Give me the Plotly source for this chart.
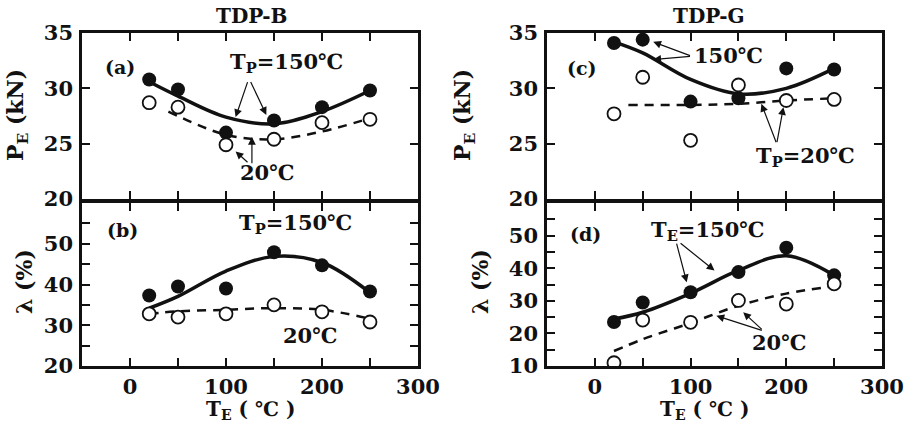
import plotly.graph_objects as go

# ---------------- data ----------------
TE = [20, 50, 100, 150, 200, 250]

# (a) TDP-B, P_E (kN)
a_hot = [30.8, 29.9, 26.0, 27.1, 28.3, 29.8]
a_cold = [28.7, 28.3, 24.9, 25.4, 26.9, 27.2]
a_hot_fit_x = [20, 50, 100, 150, 200, 250]
a_hot_fit_y = [30.6, 29.3, 27.4, 26.8, 27.9, 29.8]
a_cold_fit_x = [40, 100, 150, 200, 250]
a_cold_fit_y = [27.9, 25.8, 25.4, 26.1, 27.3]

# (b) TDP-B, lambda (%)
b_hot = [37.3, 39.5, 39.0, 47.9, 44.7, 38.3]
b_cold = [32.8, 32.0, 32.8, 35.0, 33.3, 30.8]
b_hot_fit_x = [20, 50, 100, 150, 200, 250]
b_hot_fit_y = [34.2, 37.1, 43.3, 46.9, 45.4, 38.0]
b_cold_fit_x = [20, 50, 100, 150, 200, 250]
b_cold_fit_y = [32.8, 33.4, 33.8, 34.2, 33.8, 31.6]

# (c) TDP-G, P_E (kN)
c_hot = [34.1, 34.4, 28.8, 29.1, 31.8, 31.7]
c_cold = [27.7, 31.0, 25.3, 30.3, 28.9, 29.0]
c_hot_fit_x = [20, 50, 100, 150, 200, 250]
c_hot_fit_y = [34.2, 33.2, 30.8, 29.5, 30.0, 31.8]
c_cold_fit_x = [35, 100, 150, 200, 250]
c_cold_fit_y = [28.5, 28.5, 28.6, 28.9, 29.1]

# (d) TDP-G, lambda (%)
d_hot = [23.5, 29.5, 32.6, 38.8, 46.3, 37.8]
d_cold = [11.0, 24.1, 23.4, 30.1, 29.0, 35.2]
d_hot_fit_x = [20, 50, 100, 150, 200, 250]
d_hot_fit_y = [24.4, 26.5, 32.3, 39.3, 43.8, 37.8]
d_cold_fit_x = [20, 50, 100, 150, 200, 250]
d_cold_fit_y = [14.6, 18.2, 23.2, 28.5, 32.2, 34.5]

x_ticks = [0, 50, 100, 150, 200, 250, 300]
x_ticktext = ["0", "", "100", "", "200", "", "300"]

FONT = "DejaVu Serif"
BLACK = "#111111"

fig = go.Figure()

panels = [
    ("a", "x", "y", a_hot, a_cold, (a_hot_fit_x, a_hot_fit_y), (a_cold_fit_x, a_cold_fit_y)),
    ("b", "x2", "y2", b_hot, b_cold, (b_hot_fit_x, b_hot_fit_y), (b_cold_fit_x, b_cold_fit_y)),
    ("c", "x3", "y3", c_hot, c_cold, (c_hot_fit_x, c_hot_fit_y), (c_cold_fit_x, c_cold_fit_y)),
    ("d", "x4", "y4", d_hot, d_cold, (d_hot_fit_x, d_hot_fit_y), (d_cold_fit_x, d_cold_fit_y)),
]

for name, xa, ya, hot, cold, hf, cf in panels:
    fig.add_trace(go.Scatter(x=hf[0], y=hf[1], mode="lines", line=dict(color=BLACK, width=3.5, shape="spline"),
                             xaxis=xa, yaxis=ya, showlegend=False, hoverinfo="skip"))
    fig.add_trace(go.Scatter(x=cf[0], y=cf[1], mode="lines", line=dict(color=BLACK, width=2.5, shape="spline", dash="9px,7px"),
                             xaxis=xa, yaxis=ya, showlegend=False, hoverinfo="skip"))
    fig.add_trace(go.Scatter(x=TE, y=hot, mode="markers", marker=dict(symbol="circle", size=14, color=BLACK),
                             xaxis=xa, yaxis=ya, showlegend=False))
    fig.add_trace(go.Scatter(x=TE, y=cold, mode="markers",
                             marker=dict(symbol="circle", size=13, color="white", line=dict(color=BLACK, width=1.8)),
                             xaxis=xa, yaxis=ya, showlegend=False))

W, H = 906, 422
xl = [82 / W, 418 / W]
xr = [547 / W, 882 / W]
yt = [1 - 199 / H, 1 - 33 / H]
yb = [1 - 366 / H, 1 - 203 / H]

TICKFONT = dict(family=FONT, size=21, color=BLACK, weight="bold")

def xaxis(domain, anchor, labels):
    return dict(domain=domain, anchor=anchor, range=[-50, 300], tickvals=x_ticks,
                ticktext=x_ticktext if labels else [""] * len(x_ticks),
                ticks="inside", ticklen=8, tickwidth=2, tickcolor=BLACK, showline=True, linewidth=2.5,
                linecolor=BLACK, mirror="ticks", showgrid=False, zeroline=False, automargin=False,
                tickfont=TICKFONT, ticklabelstandoff=0)

def yaxis(domain, anchor, rng, vals, text):
    return dict(domain=domain, anchor=anchor, range=rng, tickvals=vals, ticktext=text,
                ticks="inside", ticklen=8, tickwidth=2, tickcolor=BLACK, showline=True, linewidth=2.5,
                linecolor=BLACK, mirror="ticks", showgrid=False, zeroline=False, automargin=False,
                tickfont=TICKFONT, ticklabelstandoff=2)

top_vals = [20, 25, 30, 35]
top_text = ["20", "25", "30", "35"]
b_vals = [20, 25, 30, 35, 40, 45, 50, 55]
b_text = ["20", "", "30", "", "40", "", "50", ""]
d_vals = [10, 15, 20, 25, 30, 35, 40, 45, 50, 55]
d_text = ["10", "", "20", "", "30", "", "40", "", "50", ""]

fig.update_layout(
    width=W, height=H, margin=dict(l=0, r=0, t=0, b=0, autoexpand=False),
    paper_bgcolor="white", plot_bgcolor="white",
    font=dict(family=FONT, color=BLACK),
    xaxis=xaxis(xl, "y", False),
    yaxis=yaxis(yt, "x", [20, 35], top_vals, top_text),
    xaxis2=xaxis(xl, "y2", True),
    yaxis2=yaxis(yb, "x2", [20, 60], b_vals, b_text),
    xaxis3=xaxis(xr, "y3", False),
    yaxis3=yaxis(yt, "x3", [20, 35], top_vals, top_text),
    xaxis4=xaxis(xr, "y4", True),
    yaxis4=yaxis(yb, "x4", [10, 60], d_vals, d_text),
)

ann = []

def txt(text, x, y, xr_, yr_, size=21, **kw):
    d = dict(text=text, x=x, y=y, xref=xr_, yref=yr_, showarrow=False, xanchor="center", yanchor="middle",
             font=dict(family=FONT, size=size, color=BLACK, weight="bold"))
    d.update(kw)
    ann.append(d)

def arrow(x, y, ax, ay, xa, ya):
    ann.append(dict(text="", x=x, y=y, ax=ax, ay=ay, xref=xa, yref=ya, axref=xa, ayref=ya,
                    showarrow=True, arrowhead=2, arrowsize=1.3, arrowwidth=1.2, arrowcolor=BLACK))

# titles
txt("TDP-B", 252 / W, 1 - 16 / H, "paper", "paper", size=20)
txt("TDP-G", 709 / W, 1 - 16 / H, "paper", "paper", size=20)
# axis titles
txt("P<sub>E</sub> (kN)", 17 / W, 1 - 115 / H, "paper", "paper", size=22, textangle=-90)
txt("λ (%)", 24 / W, 1 - 282 / H, "paper", "paper", size=22, textangle=-90)
txt("P<sub>E</sub> (kN)", 464 / W, 1 - 115 / H, "paper", "paper", size=22, textangle=-90)
txt("λ (%)", 480 / W, 1 - 282 / H, "paper", "paper", size=22, textangle=-90)
txt("T<sub>E</sub> ( ℃ )", 250 / W, 1 - 410 / H, "paper", "paper", size=20)
txt("T<sub>E</sub> ( ℃ )", 704 / W, 1 - 410 / H, "paper", "paper", size=20)

# panel (a)
txt("(a)", -10, 31.9, "x", "y", size=19)
txt("T<sub>P</sub>=150℃", 163, 32.3, "x", "y")
txt("20℃", 143, 22.4, "x", "y")
arrow(110, 27.4, 123, 30.7, "x", "y")
arrow(142, 27.6, 125, 30.7, "x", "y")
arrow(127, 25.6, 127, 23.1, "x", "y")
arrow(110, 24.3, 124, 23.2, "x", "y")

# panel (b)
txt("(b)", -8, 53.3, "x2", "y2", size=19)
txt("T<sub>P</sub>=150℃", 172, 54.9, "x2", "y2")
txt("20℃", 187, 27.6, "x2", "y2")

# panel (c)
txt("(c)", -13, 31.8, "x3", "y3", size=19)
txt("150℃", 140, 33.0, "x3", "y3")
txt("T<sub>P</sub>=20℃", 220, 23.8, "x3", "y3")
arrow(61, 34.2, 101, 32.9, "x3", "y3")
arrow(61, 32.6, 101, 32.9, "x3", "y3")
arrow(174, 28.6, 190, 25.0, "x3", "y3")
arrow(197, 28.3, 190, 25.0, "x3", "y3")

# panel (d)
txt("(d)", -10, 50.6, "x4", "y4", size=19)
txt("T<sub>E</sub>=150℃", 118, 51.7, "x4", "y4")
txt("20℃", 192, 17.2, "x4", "y4")
arrow(96, 35.7, 85, 48, "x4", "y4")
arrow(125, 39.3, 88, 48, "x4", "y4")
arrow(155, 26.5, 176, 20.8, "x4", "y4")
arrow(127, 25.4, 176, 20.8, "x4", "y4")

fig.update_layout(annotations=ann)
fig.write_html("out.html", config={"displayModeBar": False},
               post_script="document.body.style.margin='0';")
